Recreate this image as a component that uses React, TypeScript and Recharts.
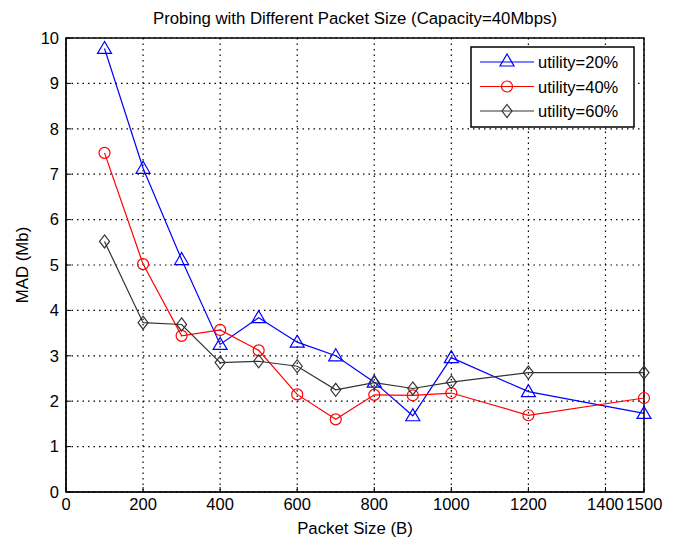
import React from 'react';
import { LineChart, Line, XAxis, YAxis, CartesianGrid, ReferenceArea } from 'recharts';

const packetSizes = [100, 200, 300, 400, 500, 600, 700, 800, 900, 1000, 1200, 1500];
const utility20 = [9.77, 7.13, 5.12, 3.25, 3.84, 3.3, 3.0, 2.42, 1.68, 2.96, 2.21, 1.73];
const utility40 = [7.47, 5.02, 3.44, 3.57, 3.12, 2.15, 1.6, 2.14, 2.13, 2.18, 1.69, 2.07];
const utility60 = [5.52, 3.73, 3.69, 2.85, 2.88, 2.77, 2.25, 2.41, 2.28, 2.42, 2.63, 2.63];
const xTicks = [0, 200, 400, 600, 800, 1000, 1200, 1400, 1500];
const yTicks = [0, 1, 2, 3, 4, 5, 6, 7, 8, 9, 10];

const data = packetSizes.map((p, i) => ({
  size: p,
  u20: utility20[i],
  u40: utility40[i],
  u60: utility60[i],
}));

const FONT = 'Arial, "Liberation Sans", sans-serif';

const Triangle = (props: any) => {
  const { cx, cy, stroke } = props;
  if (cx == null || cy == null) return null;
  return (
    <polygon
      points={`${cx},${cy - 7} ${cx - 7},${cy + 5} ${cx + 7},${cy + 5}`}
      fill="none"
      stroke={stroke}
      strokeWidth={1.2}
    />
  );
};
const Circle = (props: any) => {
  const { cx, cy, stroke } = props;
  if (cx == null || cy == null) return null;
  return <circle cx={cx} cy={cy} r={5.5} fill="none" stroke={stroke} strokeWidth={1.2} />;
};
const Diamond = (props: any) => {
  const { cx, cy, stroke } = props;
  if (cx == null || cy == null) return null;
  return (
    <polygon
      points={`${cx},${cy - 6.5} ${cx + 5},${cy} ${cx},${cy + 6.5} ${cx - 5},${cy}`}
      fill="none"
      stroke={stroke}
      strokeWidth={1.2}
    />
  );
};

const legendItems = [
  { label: 'utility=20%', color: '#0000ff', shape: 'tri' },
  { label: 'utility=40%', color: '#ff0000', shape: 'circ' },
  { label: 'utility=60%', color: '#333333', shape: 'dia' },
];

const LegendBox = () => (
  <svg width={165} height={82} style={{ display: 'block' }}>
    <rect x={1} y={1} width={163} height={80} fill="#fff" stroke="#000" strokeWidth={1.5} />
    {legendItems.map((it, i) => {
      const y = 16 + i * 24.5;
      return (
        <g key={it.label}>
          <line x1={10} x2={64} y1={y} y2={y} stroke={it.color} strokeWidth={1.2} />
          {it.shape === 'tri' && <Triangle cx={37} cy={y - 1} stroke={it.color} />}
          {it.shape === 'circ' && <Circle cx={37} cy={y} stroke={it.color} />}
          {it.shape === 'dia' && <Diamond cx={37} cy={y} stroke={it.color} />}
          <text x={68} y={y + 6} fontSize={16.5} fontFamily={FONT} fill="#000">
            {it.label}
          </text>
        </g>
      );
    })}
  </svg>
);

export default function App() {
  return (
    <div style={{ position: 'absolute', left: 0, top: 0, width: 675, height: 538, background: '#fff' }}>
      <div
        style={{
          position: 'absolute',
          left: 48,
          width: 614,
          top: 9,
          textAlign: 'center',
          fontFamily: FONT,
          fontSize: 16.8,
          lineHeight: '20px',
          color: '#000',
        }}
      >
        Probing with Different Packet Size (Capacity=40Mbps)
      </div>
      <LineChart
        width={675}
        height={538}
        data={data}
        margin={{ top: 38, right: 31, left: 26, bottom: 16 }}
      >
        <CartesianGrid stroke="#000" strokeDasharray="1.5 4" strokeWidth={1.2} />
        <XAxis
          dataKey="size"
          type="number"
          domain={[0, 1500]}
          ticks={xTicks}
          interval={0}
          height={30}
          tickSize={-5}
          tickMargin={11}
          tick={{ fill: '#000', fontSize: 16.5, fontFamily: FONT }}
          stroke="#000"
          label={{ value: 'Packet Size (B)', position: 'insideBottom', offset: -12, fill: '#000', fontSize: 16.8, fontFamily: FONT }}
        />
        <YAxis
          type="number"
          domain={[0, 10]}
          ticks={yTicks}
          interval={0}
          width={40}
          tickSize={-5}
          tickMargin={12}
          tick={{ fill: '#000', fontSize: 16.5, fontFamily: FONT }}
          stroke="#000"
          label={{ value: 'MAD (Mb)', angle: -90, position: 'insideLeft', offset: -4, fill: '#000', fontSize: 16.8, fontFamily: FONT, style: { textAnchor: 'middle' } }}
        />
        <ReferenceArea
          x1={0}
          x2={1500}
          y1={0}
          y2={10}
          fill="none"
          stroke="#000"
          strokeWidth={1.5}
          ifOverflow="visible"
        />
        <Line
          dataKey="u20"
          stroke="#0000ff"
          strokeWidth={1.2}
          isAnimationActive={false}
          dot={(p: any) => <Triangle key={`t${p.index}`} {...p} stroke="#0000ff" />}
        />
        <Line
          dataKey="u40"
          stroke="#ff0000"
          strokeWidth={1.2}
          isAnimationActive={false}
          dot={(p: any) => <Circle key={`c${p.index}`} {...p} stroke="#ff0000" />}
        />
        <Line
          dataKey="u60"
          stroke="#333333"
          strokeWidth={1.2}
          isAnimationActive={false}
          dot={(p: any) => <Diamond key={`d${p.index}`} {...p} stroke="#333333" />}
        />
      </LineChart>
      <div style={{ position: 'absolute', left: 470, top: 46 }}>
        <LegendBox />
      </div>
    </div>
  );
}
